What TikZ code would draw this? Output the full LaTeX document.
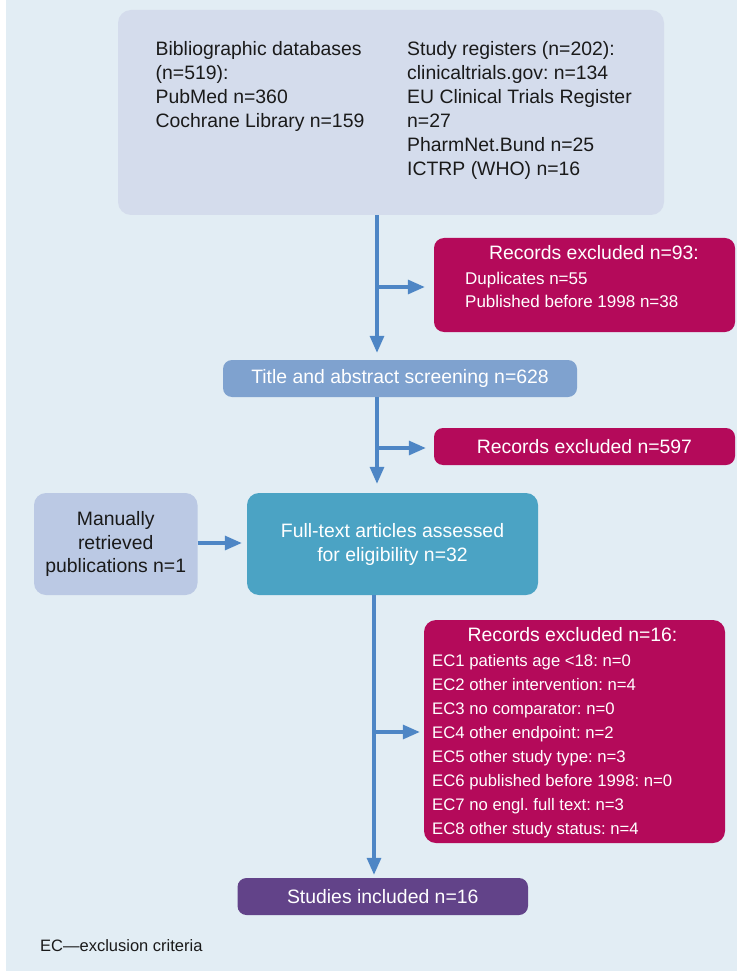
\documentclass[tikz,border=0pt]{standalone}
\usepackage{fontspec}
\setmainfont{Liberation Sans}
\usetikzlibrary{arrows.meta}
\frenchspacing
\definecolor{bgc}{HTML}{E2EDF4}
\definecolor{srcc}{HTML}{D4DCEC}
\definecolor{exc}{HTML}{B40A5A}
\definecolor{titc}{HTML}{7FA2CF}
\definecolor{fullc}{HTML}{4BA3C4}
\definecolor{manc}{HTML}{BBC9E4}
\definecolor{incc}{HTML}{624389}
\definecolor{arrc}{HTML}{4E86C5}
\definecolor{txtc}{HTML}{1A1A1A}
\tikzset{
  box/.style={draw=none, rounded corners=10pt, inner sep=0pt, align=center},
  bigtext/.style={font=\fontsize{19.4}{24}\selectfont},
  smalltext/.style={font=\fontsize{17}{23.5}\selectfont},
  ectext/.style={font=\fontsize{16.7}{24}\selectfont},
  conn/.style={draw=arrc, line width=3.2pt, -{Triangle[length=17pt,width=14pt]}}
}
\begin{document}
\begin{tikzpicture}[x=1pt,y=-1pt]
\useasboundingbox (0,0) rectangle (737,973);
\fill[white] (0,0) rectangle (737,973);
\fill[bgc] (6,0) rectangle (737,971);

% boxes
\node[box, fill=srcc, minimum width=546pt, minimum height=205pt, rounded corners=13pt] (src) at (391,112.5) {};
\node[box, fill=exc, minimum width=301pt, minimum height=94pt] (ex1) at (584.5,285) {};
\node[box, fill=titc, minimum width=354pt, minimum height=37pt, rounded corners=9pt, text=white, bigtext] (tit) at (400,378.5) {Title and abstract screening n=628};
\node[box, fill=exc, minimum width=301pt, minimum height=37pt, rounded corners=9pt, text=white, bigtext] (ex2) at (584.5,446.5) {Records excluded n=597};
\node[box, fill=fullc, minimum width=291pt, minimum height=102pt, rounded corners=12pt, text=white, bigtext] (full) at (392.5,544) {Full-text articles assessed\\for eligibility n=32};
\node[box, fill=manc, minimum width=163.5pt, minimum height=102pt, rounded corners=12pt, text=txtc, font=\fontsize{19.4}{23.3}\selectfont] (man) at (115.75,544) {Manually\\retrieved\\publications n=1};
\node[box, fill=exc, minimum width=301pt, minimum height=223pt, rounded corners=12pt] (ex3) at (574.5,731.5) {};
\node[box, fill=incc, minimum width=290.5pt, minimum height=37pt, rounded corners=9pt, text=white, bigtext] (inc) at (382.75,896.5) {Studies included n=16};

% source texts
\node[anchor=north west, inner sep=0pt, align=left, text=txtc, bigtext] (srcL) at (155.5,41.5) {Bibliographic databases\\(n=519):\\PubMed n=360\\Cochrane Library n=159};
\node[anchor=north west, inner sep=0pt, align=left, text=txtc, bigtext] (srcR) at (407,41.5) {Study registers (n=202):\\clinicaltrials.gov: n=134\\EU Clinical Trials Register\\n=27\\PharmNet.Bund n=25\\ICTRP (WHO) n=16};

% excluded 1 texts
\node[inner sep=0pt, text=white, bigtext] (ex1t) at (594,253) {Records excluded n=93:};
\node[anchor=north west, inner sep=0pt, align=left, text=white, smalltext] (ex1l) at (465,271.8) {Duplicates n=55\\Published before 1998 n=38};

% excluded 3 texts
\node[inner sep=0pt, text=white, bigtext] (ex3t) at (572.5,635) {Records excluded n=16:};
\node[anchor=north west, inner sep=0pt, align=left, text=white, ectext] (ex3l) at (432,654) {EC1 patients age <18: n=0\\EC2 other intervention: n=4\\EC3 no comparator: n=0\\EC4 other endpoint: n=2\\EC5 other study type: n=3\\EC6 published before 1998: n=0\\EC7 no engl. full text: n=3\\EC8 other study status: n=4};

% footer
\node[anchor=west, inner sep=0pt, text=txtc, font=\fontsize{16.5}{20}\selectfont] (foot) at (40,946) {EC—exclusion criteria};

% connectors
\coordinate (colA) at (377,0);
\coordinate (colB) at (374,0);
\coordinate (b1) at (377,287);
\coordinate (b2) at (377,448);
\coordinate (b3) at (374,732);
\coordinate (m1) at (197,543);

\draw[conn, shorten >=7pt] (src.south -| colA) -- (tit.north -| colA);
\draw[conn, shorten >=9pt] (b1) -- (ex1.west |- b1);
\draw[conn, shorten >=9pt] (tit.south -| colA) -- (full.north -| colA);
\draw[conn, shorten >=8pt] (b2) -- (ex2.west |- b2);
\draw[conn, shorten >=5pt] (man.east |- m1) -- (full.west |- m1);
\draw[conn, shorten >=3pt] (full.south -| colB) -- (inc.north -| colB);
\draw[conn, shorten >=4pt] (b3) -- (ex3.west |- b3);
\end{tikzpicture}
\end{document}
